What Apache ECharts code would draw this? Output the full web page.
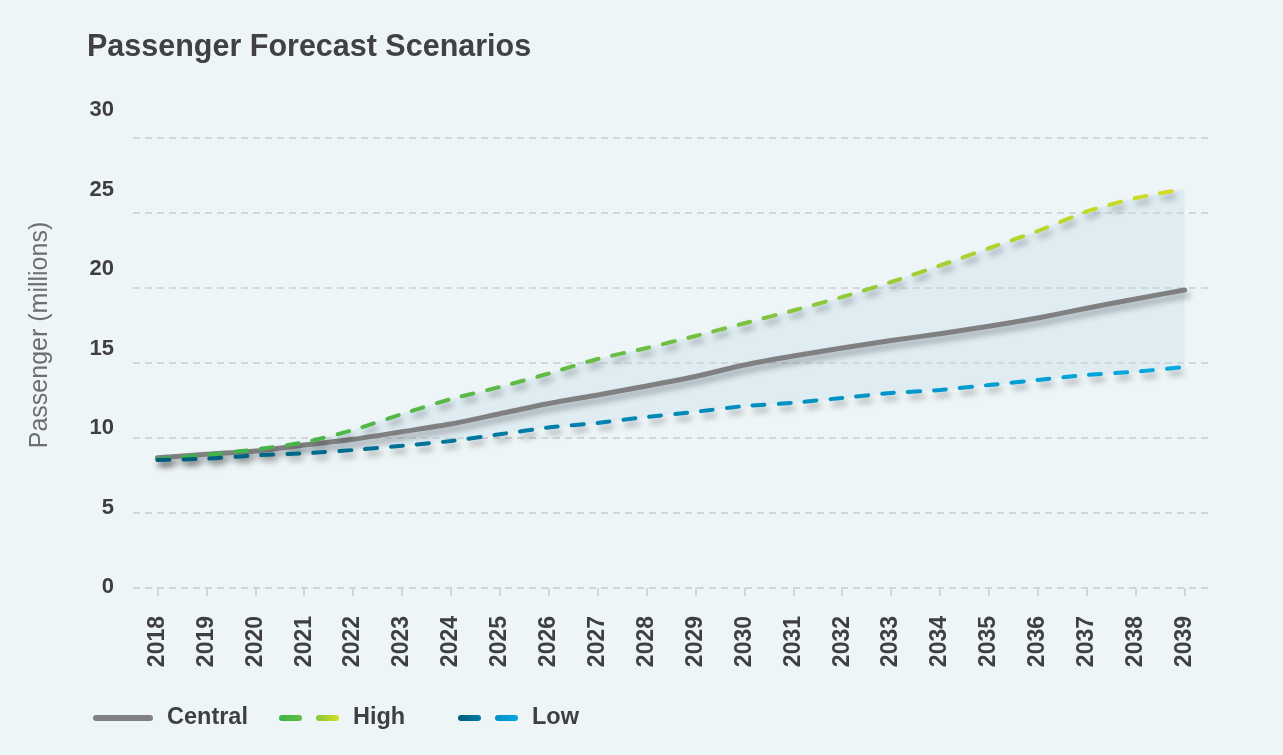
<!DOCTYPE html>
<html>
<head>
<meta charset="utf-8">
<script src="https://cdn.jsdelivr.net/npm/echarts@6/dist/echarts.min.js"></script>
<style>
html,body{margin:0;padding:0;background:#eef5f7;}
#chart{width:1283px;height:755px;}
</style>
</head>
<body>
<div id="chart"></div>
<script>
var years = ['2018','2019','2020','2021','2022','2023','2024','2025','2026','2027','2028','2029','2030','2031','2032','2033','2034','2035','2036','2037','2038','2039'];
var central = [8.69, 8.91, 9.13, 9.53, 9.91, 10.42, 10.93, 11.62, 12.3, 12.87, 13.47, 14.1, 14.87, 15.47, 16.0, 16.5, 16.95, 17.45, 18.0, 18.65, 19.27, 19.87];
var high = [8.58, 8.87, 9.24, 9.71, 10.53, 11.6, 12.6, 13.4, 14.3, 15.27, 16.0, 16.8, 17.65, 18.5, 19.4, 20.4, 21.5, 22.65, 23.8, 25.1, 26.0, 26.6];
var low = [8.53, 8.62, 8.84, 8.98, 9.2, 9.48, 9.8, 10.25, 10.7, 11.0, 11.4, 11.75, 12.13, 12.35, 12.67, 13.0, 13.2, 13.53, 13.87, 14.2, 14.42, 14.73];
var yTicks = [0, 5, 10, 15, 20, 25, 30];

var band = high.map(function (v, i) { return +(v - low[i]).toFixed(3); });

var highGrad = function () { return new echarts.graphic.LinearGradient(0, 0, 1, 0, [
  { offset: 0, color: '#3bb44a' }, { offset: 0.5, color: '#6fbe44' }, { offset: 1, color: '#d5df20' }]); };
var lowGrad = function () { return new echarts.graphic.LinearGradient(0, 0, 1, 0, [
  { offset: 0, color: '#005b78' }, { offset: 0.5, color: '#0088b8' }, { offset: 1, color: '#00a9e2' }]); };

var FONT = 'Liberation Sans, Arial, sans-serif';
var dashIcon = 'path://M3,0H20A3,3 0 0 1 20,6H3A3,3 0 0 1 3,0Z M40,0H57A3,3 0 0 1 57,6H40A3,3 0 0 1 40,0Z';
var barIcon = 'path://M3,0H57A3,3 0 0 1 57,6H3A3,3 0 0 1 3,0Z';
var textFont = { color: '#3f3f41', fontSize: 23.5, fontWeight: 'bold', fontFamily: FONT, padding: [0, 0, 0, 9] };
var legendBase = { orient: 'horizontal', bottom: 20, itemWidth: 60, itemHeight: 6, itemGap: 0, selectedMode: false,
  textStyle: textFont, lineStyle: { width: 0, opacity: 0 } };
var shadow = { shadowColor: 'rgba(0,0,0,0.32)', shadowBlur: 6, shadowOffsetX: 3, shadowOffsetY: 5 };

var chart = echarts.init(document.getElementById('chart'), null, { renderer: 'canvas' });
chart.setOption({
  backgroundColor: '#eef5f7',
  animation: false,
  title: {
    text: 'Passenger Forecast Scenarios', left: 82, top: 27,
    textStyle: { color: '#414042', fontSize: 30.5, fontWeight: 'bold', fontFamily: FONT }
  },
  legend: [
    Object.assign({}, legendBase, { left: 88, data: [{ name: 'Central', icon: barIcon, itemStyle: { color: '#808083', borderWidth: 0 } }] }),
    Object.assign({}, legendBase, { left: 274, data: [{ name: 'High', icon: dashIcon, itemStyle: { color: highGrad(), borderWidth: 0 } }] }),
    Object.assign({}, legendBase, { left: 453, data: [{ name: 'Low', icon: dashIcon, itemStyle: { color: lowGrad(), borderWidth: 0 } }] })
  ],
  grid: [
    { left: 133, right: 74, top: 138, bottom: 167 },
    { left: 133, right: 74, top: 110, bottom: 168 }
  ],
  xAxis: [
    {
      type: 'category', gridIndex: 0, data: years, boundaryGap: true,
      axisLine: { show: false },
      axisTick: { show: true, alignWithLabel: true, length: 8, lineStyle: { color: '#c9cccd', width: 1.5 } },
      axisLabel: { rotate: 90, margin: 28, color: '#3f3f41', fontSize: 23, fontWeight: 'bold', fontFamily: FONT, interval: 0 },
      splitLine: { show: false }
    },
    { type: 'category', gridIndex: 1, data: years, show: false }
  ],
  yAxis: [
    {
      type: 'value', gridIndex: 0, min: 0, max: 30, interval: 5,
      axisLine: { show: false }, axisTick: { show: false }, axisLabel: { show: false },
      splitLine: { show: true, lineStyle: { color: '#c9cccd', width: 1.5, type: [7, 5] } }
    },
    {
      type: 'value', gridIndex: 1, min: 0, max: 30, interval: 5,
      axisLine: { show: false }, axisTick: { show: false }, splitLine: { show: false },
      axisLabel: { margin: 19, color: '#3f3f41', fontSize: 22, fontWeight: 'bold', fontFamily: FONT,
        formatter: function (v) { return yTicks.indexOf(v) >= 0 ? String(v) : ''; } },
      name: 'Passenger (millions)', nameLocation: 'middle', nameGap: 80,
      nameTextStyle: { color: '#6d6e71', fontSize: 25, fontFamily: FONT, padding: [0, 0, 0, 27] }
    }
  ],
  series: [
    {
      name: 'bandBase', type: 'line', xAxisIndex: 0, yAxisIndex: 0, data: low, stack: 'band',
      symbol: 'none', smooth: 0.2, lineStyle: { opacity: 0 }, silent: true, z: 1
    },
    {
      name: 'bandFill', type: 'line', xAxisIndex: 0, yAxisIndex: 0, data: band, stack: 'band',
      symbol: 'none', smooth: 0.2, lineStyle: { opacity: 0 }, silent: true, z: 1,
      areaStyle: { color: 'rgba(196,224,236,0.5)' }
    },
    {
      name: 'Central', type: 'line', xAxisIndex: 0, yAxisIndex: 0, data: central,
      symbol: 'none', smooth: 0.2, z: 3,
      lineStyle: Object.assign({ color: '#808083', width: 5, cap: 'round' }, shadow)
    },
    {
      name: 'High', type: 'line', xAxisIndex: 0, yAxisIndex: 0, data: high,
      symbol: 'none', smooth: 0.2, z: 4,
      lineStyle: Object.assign({ color: highGrad(), width: 4, type: [12, 14], cap: 'round' }, shadow)
    },
    {
      name: 'Low', type: 'line', xAxisIndex: 0, yAxisIndex: 0, data: low,
      symbol: 'none', smooth: 0.2, z: 5,
      lineStyle: Object.assign({ color: lowGrad(), width: 4, type: [12, 14], cap: 'round' }, shadow)
    }
  ]
});
</script>
</body>
</html>
